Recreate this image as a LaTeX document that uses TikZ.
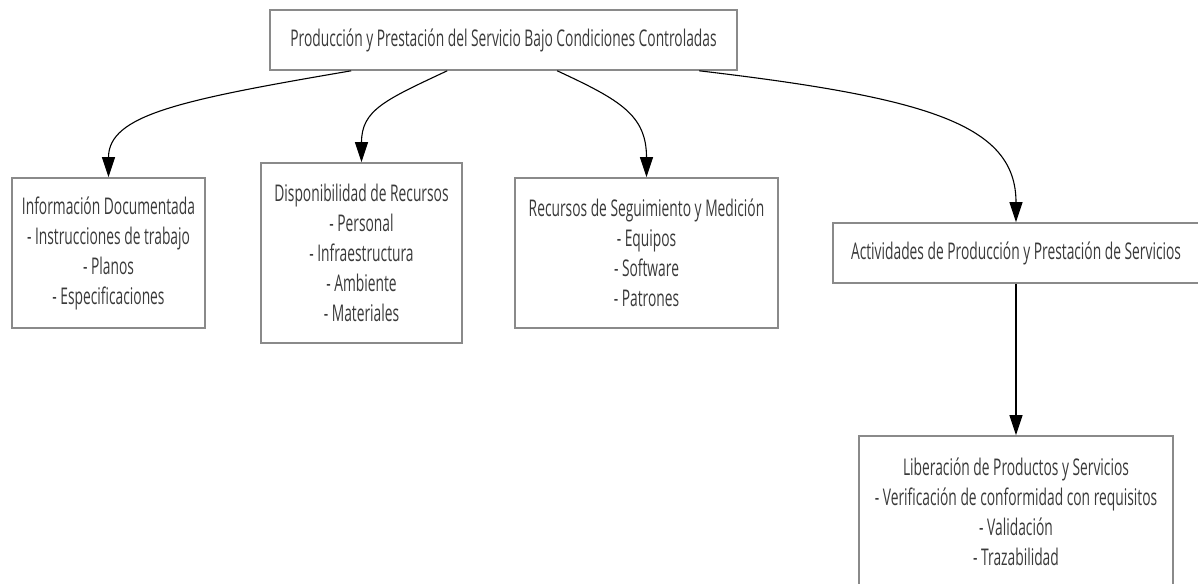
\documentclass[tikz,border=0pt]{standalone}
\usepackage{fontspec}
\setmainfont{Open Sans}[FakeStretch=0.6]
\usetikzlibrary{arrows.meta}
\definecolor{txt}{HTML}{3A3A3A}
\definecolor{bord}{HTML}{8A8A8A}
\begin{document}
\begin{tikzpicture}[x=1pt,y=-1pt,
  box/.style={draw=bord, line width=1.6pt, fill=white, text=txt, align=center,
    inner sep=0pt, font=\fontsize{23}{30}\selectfont},
  conn/.style={draw=black, line width=1.1pt, -{Triangle[length=20pt,width=13pt]}}]
\useasboundingbox (0,0) rectangle (1198,583);
\node[box, minimum width=467pt, minimum height=60pt] (top) at (503.5,40)
  {Producción y Prestación del Servicio Bajo Condiciones Controladas};
\node[box, minimum width=193pt, minimum height=150pt] (info) at (108.5,253)
  {Información Documentada\\- Instrucciones de trabajo\\- Planos\\- Especificaciones};
\node[box, minimum width=201pt, minimum height=180pt] (disp) at (361.5,253)
  {Disponibilidad de Recursos\\- Personal\\- Infraestructura\\- Ambiente\\- Materiales};
\node[box, minimum width=263pt, minimum height=150pt] (rec) at (646.5,253)
  {Recursos de Seguimiento y Medición\\- Equipos\\- Software\\- Patrones};
\node[box, minimum width=366pt, minimum height=60pt] (act) at (1016,253)
  {Actividades de Producción y Prestación de Servicios};
\node[box, minimum width=314pt, minimum height=152pt] (lib) at (1016,512)
  {Liberación de Productos y Servicios\\- Verificación de conformidad con requisitos\\- Validación\\- Trazabilidad};
\draw[conn] ([xshift=82pt]top.south west) .. controls (180,100) and (108.5,115) .. (info.north);
\draw[conn] ([xshift=178pt]top.south west) .. controls (385,100) and (361.5,110) .. (disp.north);
\draw[conn] ([xshift=288pt]top.south west) .. controls (620,100) and (646.5,115) .. (rec.north);
\draw[conn] ([xshift=430pt]top.south west) .. controls (930,98) and (1016,125) .. (act.north);
\draw[conn] (act.south) -- (lib.north);
\end{tikzpicture}
\end{document}
